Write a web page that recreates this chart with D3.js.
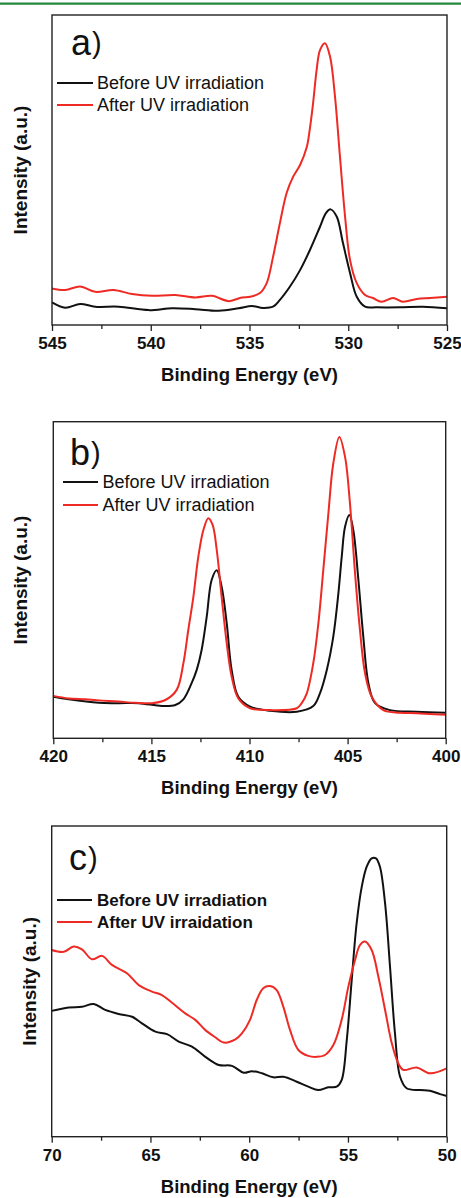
<!DOCTYPE html>
<html>
<head>
<meta charset="utf-8">
<script src="https://cdn.jsdelivr.net/npm/d3@7"></script>
<style>
  body { margin: 0; background: #fff; }
  svg { display: block; }
  text { font-family: "Liberation Sans", Arial, sans-serif; fill: #111; }
</style>
</head>
<body>
<svg id="canvas"></svg>
<script>
// values: [binding energy (eV), intensity (a.u., % of frame height)]
let aBefore = [[545.0,7.3],[544.33,5.6],[543.57,6.8],[542.81,5.9],[541.62,5.9],[540.1,4.8],[538.92,5.4],[537.74,5.1],[536.56,4.6],[535.55,5.4],[534.87,6.1],[534.32,5.5],[533.81,5.9],[533.46,8.1],[532.95,12.4],[532.44,17.7],[531.94,24.2],[531.43,31.7],[531.13,36.1],[530.89,37.3],[530.58,34.9],[530.27,26.5],[529.91,16.8],[529.57,9.1],[529.15,5.9],[528.56,5.7],[527.38,5.7],[526.22,5.9],[525.0,5.4]]
let aAfter = [[545.0,11.8],[544.33,11.3],[543.57,12.4],[542.81,10.7],[541.88,11.3],[540.95,10.0],[539.94,9.4],[538.76,9.7],[537.74,8.9],[536.9,9.4],[536.05,7.7],[535.38,8.9],[534.97,9.1],[534.47,10.3],[534.13,13.5],[533.81,21.9],[533.46,32.9],[533.12,42.6],[532.8,47.7],[532.44,51.6],[532.1,57.4],[531.94,63.5],[531.78,71.6],[531.6,82.3],[531.43,88.7],[531.18,90.9],[530.92,86.5],[530.67,73.6],[530.42,54.3],[530.16,34.9],[529.91,21.0],[529.57,13.5],[529.15,9.7],[528.75,8.7],[528.31,7.5],[527.73,8.7],[527.23,7.5],[526.53,8.4],[525.86,8.7],[525.0,9.1]]

let bBefore = [[420.0,13.1],[419.22,12.3],[417.69,11.2],[416.67,11.1],[415.65,11.1],[414.46,10.2],[413.78,10.5],[413.37,12.3],[412.95,17.4],[412.69,21.6],[412.44,27.9],[412.18,38.4],[411.93,50.0],[411.67,53.1],[411.42,47.9],[411.16,36.3],[410.91,21.6],[410.57,13.1],[409.97,10.0],[408.95,8.7],[407.59,8.4],[406.75,10.2],[406.41,14.2],[406.06,21.6],[405.73,32.1],[405.47,45.8],[405.3,57.3],[405.13,66.8],[404.91,70.5],[404.71,65.8],[404.45,50.0],[404.2,32.1],[403.94,17.4],[403.6,11.1],[402.84,8.9],[401.48,8.4],[400.0,8.1]]
let bAfter = [[420.0,13.4],[419.22,12.6],[418.37,12.3],[417.52,11.9],[416.67,11.6],[415.82,11.2],[414.97,11.1],[414.29,12.1],[413.71,15.3],[413.37,23.7],[413.12,34.2],[412.86,44.7],[412.61,57.3],[412.35,65.8],[412.1,69.5],[411.88,67.4],[411.67,59.5],[411.42,44.7],[411.16,30.0],[410.91,19.5],[410.57,12.6],[409.97,9.5],[408.95,8.9],[407.59,9.5],[407.34,11.1],[407.08,14.2],[406.75,23.7],[406.49,36.3],[406.24,53.1],[405.98,71.0],[405.73,86.8],[405.42,95.2],[405.13,88.9],[404.88,74.2],[404.62,52.1],[404.37,34.2],[404.11,20.5],[403.77,13.1],[403.18,8.9],[402.33,8.1],[401.48,7.9],[400.0,7.4]]

let cBefore = [[70.0,40.5],[69.14,41.6],[68.47,41.8],[67.87,42.7],[67.29,40.8],[66.61,39.5],[65.93,38.6],[65.43,36.5],[64.75,33.8],[64.16,33.0],[63.57,30.6],[62.9,29.0],[62.22,25.7],[61.54,23.1],[60.87,22.8],[60.28,20.6],[59.86,21.1],[59.35,20.4],[58.78,19.1],[58.27,19.3],[57.59,17.7],[57.01,16.1],[56.5,15.0],[56.0,15.9],[55.57,16.1],[55.32,18.2],[55.06,31.1],[54.81,50.4],[54.56,68.7],[54.3,80.5],[54.05,86.9],[53.8,89.6],[53.58,89.6],[53.38,86.9],[53.12,75.1],[52.87,54.7],[52.62,33.3],[52.36,19.3],[52.03,15.6],[51.35,15.0],[50.85,14.8],[50.34,13.7],[50.0,13.1]]
let cAfter = [[70.0,60.1],[69.39,59.5],[68.89,61.2],[68.47,60.3],[67.96,57.1],[67.45,58.2],[66.95,55.3],[66.19,52.6],[65.59,48.8],[64.92,46.7],[64.42,45.6],[63.91,43.1],[63.24,39.7],[62.73,37.6],[62.22,34.3],[61.72,32.0],[61.29,30.3],[60.7,31.3],[60.36,33.3],[59.96,37.6],[59.62,44.0],[59.29,47.8],[58.95,48.5],[58.61,47.2],[58.27,41.8],[57.93,34.3],[57.51,27.9],[57.01,26.0],[56.58,25.7],[56.16,26.3],[55.74,29.5],[55.32,37.6],[54.98,48.3],[54.64,56.9],[54.39,61.7],[54.14,62.8],[53.8,60.1],[53.46,51.5],[53.12,40.8],[52.78,30.1],[52.45,23.6],[52.2,21.5],[51.52,22.3],[50.85,20.4],[50.0,22.0]]

let aTicks = [545, 540, 535, 530, 525]
let bTicks = [420, 415, 410, 405, 400]
let cTicks = [70, 65, 60, 55, 50]

let legendA = ['Before UV irradiation', 'After UV irradiation']
let legendC = ['Before UV irradiation', 'After UV irraidation']

const width = 461
const height = 1198

let canvas = d3.select('#canvas')
canvas.attr('width', width)
canvas.attr('height', height)

canvas.append('line')
    .attr('x1', 0).attr('x2', width)
    .attr('y1', 3.7).attr('y2', 3.7)
    .attr('stroke', '#23883a')
    .attr('stroke-width', 2.2)

let panels = [
    {label: 'a', ticks: aTicks, before: aBefore, after: aAfter, legend: legendA, bold: false,
     left: 52, right: 447, top: 15, bottom: 325, labelX: 71, labelY: 55,
     legY: [83, 105], lineX: [57, 93], textX: 97, yTitleX: 27},
    {label: 'b', ticks: bTicks, before: bBefore, after: bAfter, legend: legendA, bold: false,
     left: 53.3, right: 445.7, top: 421.7, bottom: 738.3, labelX: 70, labelY: 465,
     legY: [482, 505], lineX: [63, 98], textX: 102.5, yTitleX: 27},
    {label: 'c', ticks: cTicks, before: cBefore, after: cAfter, legend: legendC, bold: true,
     left: 51.7, right: 446.7, top: 826, bottom: 1136.7, labelX: 69, labelY: 870,
     legY: [900, 922], lineX: [57, 92], textX: 97, yTitleX: 36}
]

let drawPanel = (p) => {
    let g = canvas.append('g')

    let xScale = d3.scaleLinear()
        .domain([p.ticks[0], p.ticks[p.ticks.length - 1]])
        .range([p.left, p.right])
    let yScale = d3.scaleLinear()
        .domain([0, 100])
        .range([p.bottom, p.top])

    // minor ticks halfway between labelled ones
    let minor = p.ticks.slice(1).map((t, i) => (t + p.ticks[i]) / 2)

    let minorAxis = d3.axisBottom(xScale).tickValues(minor).tickSize(4).tickFormat('')
    g.append('g')
        .attr('transform', 'translate(0,' + p.bottom + ')')
        .call(minorAxis)
        .call(s => s.select('.domain').remove())

    let majorAxis = d3.axisBottom(xScale).tickValues(p.ticks).tickSize(6).tickPadding(6).tickFormat(d3.format('d'))
    g.append('g')
        .attr('transform', 'translate(0,' + p.bottom + ')')
        .call(majorAxis)
        .call(s => s.select('.domain').remove())
        .call(s => s.selectAll('.tick text')
            .attr('font-family', '"Liberation Sans", Arial, sans-serif')
            .attr('font-size', 17)
            .attr('font-weight', 'bold')
            .attr('fill', '#111'))

    g.selectAll('.tick line').attr('stroke', '#222').attr('stroke-width', 1.3)

    let line = d3.line()
        .x(d => xScale(d[0]))
        .y(d => yScale(d[1]))
        .curve(d3.curveCatmullRom.alpha(0.5))

    g.append('path')
        .attr('d', line(p.before))
        .attr('fill', 'none')
        .attr('stroke', '#111')
        .attr('stroke-width', 2)

    g.append('path')
        .attr('d', line(p.after))
        .attr('fill', 'none')
        .attr('stroke', '#ee2a24')
        .attr('stroke-width', 2)

    g.append('rect')
        .attr('x', p.left).attr('y', p.top)
        .attr('width', p.right - p.left)
        .attr('height', p.bottom - p.top)
        .attr('fill', 'none')
        .attr('stroke', '#222')
        .attr('stroke-width', 1.4)

    let lab = g.append('text')
        .attr('x', p.labelX).attr('y', p.labelY)
        .attr('font-family', 'Roboto, "Liberation Sans", sans-serif')
        .attr('font-weight', 300)
        .attr('font-size', 36)
    lab.append('tspan').text(p.label)
    lab.append('tspan').attr('font-size', 29).attr('dy', -2).attr('dx', 1).text(')')

    let colors = ['#111', '#ee2a24']
    p.legend.forEach((txt, i) => {
        g.append('line')
            .attr('x1', p.lineX[0]).attr('x2', p.lineX[1])
            .attr('y1', p.legY[i]).attr('y2', p.legY[i])
            .attr('stroke', colors[i])
            .attr('stroke-width', 2)
        g.append('text')
            .attr('x', p.textX).attr('y', p.legY[i] + 6)
            .attr('font-size', p.bold ? 17 : 18)
            .attr('font-weight', p.bold ? 'bold' : 'normal')
            .text(txt)
    })

    g.append('text')
        .attr('x', (p.left + p.right) / 2)
        .attr('y', p.bottom + 56)
        .attr('text-anchor', 'middle')
        .attr('font-size', 18.5)
        .attr('font-weight', 'bold')
        .text('Binding Energy (eV)')

    g.append('text')
        .attr('transform', 'translate(' + p.yTitleX + ',' + ((p.top + p.bottom) / 2) + ') rotate(-90)')
        .attr('text-anchor', 'middle')
        .attr('font-size', 19)
        .attr('font-weight', 'bold')
        .text('Intensity (a.u.)')
}

panels.forEach(drawPanel)
</script>
</body>
</html>
